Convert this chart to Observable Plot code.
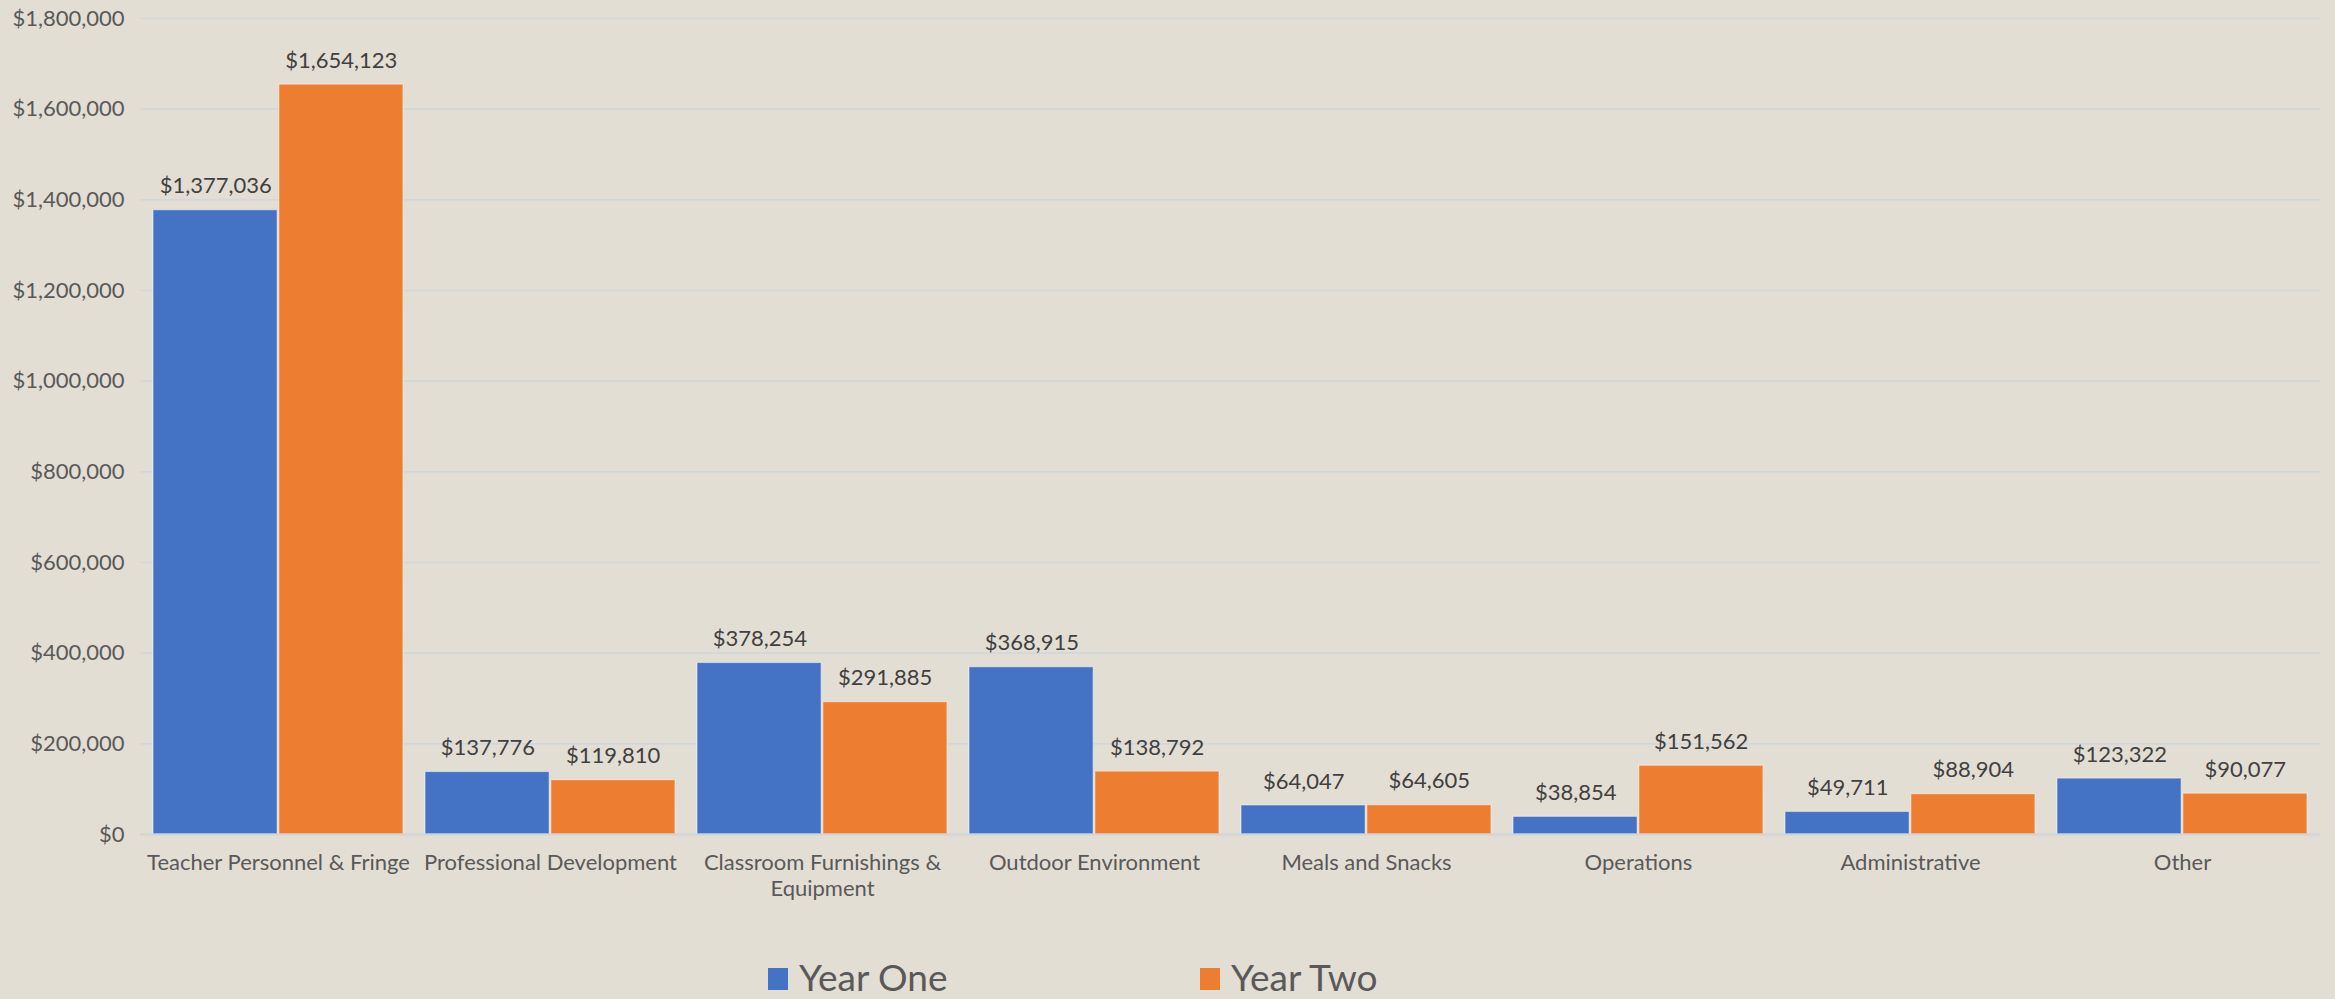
<!DOCTYPE html>
<html>
<head>
<meta charset="utf-8">
<script src="https://cdn.jsdelivr.net/npm/d3@7"></script>
<script src="https://cdn.jsdelivr.net/npm/@observablehq/plot@0.6"></script>
<style>
  html, body { margin: 0; padding: 0; background: #E3DED3; }
  body { width: 2335px; height: 999px; overflow: hidden; position: relative; font-family: Lato, "Open Sans", sans-serif; }
  #chart { position: absolute; left: 0; top: 0; }
  #legend { position: absolute; left: 0; top: 954px; width: 2335px; height: 45px; }
  .sw { position: absolute; top: 14px; width: 20px; height: 22px; }
  .lt { position: absolute; top: 0px; font-size: 37px; color: #595959; line-height: 45px; }
</style>
</head>
<body>
<div id="chart"></div>
<div id="legend"></div>
<script>
const categories = [
  "Teacher Personnel & Fringe",
  "Professional Development",
  "Classroom Furnishings & Equipment",
  "Outdoor Environment",
  "Meals and Snacks",
  "Operations",
  "Administrative",
  "Other"
];
const yearOne = [1377036, 137776, 378254, 368915, 64047, 38854, 49711, 123322];
const yearTwo = [1654123, 119810, 291885, 138792, 64605, 151562, 88904, 90077];
const seriesNames = ["Year One", "Year Two"];
const seriesColors = ["#4472C4", "#ED7D31"];
const yTicks = [0, 200000, 400000, 600000, 800000, 1000000, 1200000, 1400000, 1600000, 1800000];
const tickLabelBreaks = {"Classroom Furnishings & Equipment": "Classroom Furnishings &\nEquipment"};

const rowsOne = categories.map((c, i) => ({category: c, series: seriesNames[0], value: yearOne[i]}));
const rowsTwo = categories.map((c, i) => ({category: c, series: seriesNames[1], value: yearTwo[i]}));

const W = 2335, H = 940, mL = 140, mR = 15, mT = 18, mB = 106;
const pIn = 0.08, pOut = 0.04;
const step = (W - mL - mR) / (categories.length - pIn + 2 * pOut);
const bw = step * (1 - pIn);
const half = bw / 2;

const money = d => "$" + d3.format(",")(d);

const chart = Plot.plot({
  width: W, height: H,
  marginLeft: mL, marginRight: mR, marginTop: mT, marginBottom: mB,
  style: {background: "transparent", fontFamily: "Lato, 'Open Sans', sans-serif", fontSize: "22px", color: "#595959"},
  x: {domain: categories, paddingInner: pIn, paddingOuter: pOut, label: null},
  y: {domain: [0, 1800000], label: null},
  color: {domain: seriesNames, range: seriesColors},
  marks: [
    Plot.gridY(yTicks, {stroke: "#d3d6dd", strokeOpacity: 1, strokeWidth: 1.6}),
    Plot.barY(rowsOne, {x: "category", y: "value", fill: "series", insetRight: half + 0.5, stroke: "#ffffff", strokeOpacity: 0.45, strokeWidth: 1.2}),
    Plot.barY(rowsTwo, {x: "category", y: "value", fill: "series", insetLeft: half + 0.5, stroke: "#ffffff", strokeOpacity: 0.45, strokeWidth: 1.2}),
    Plot.ruleY([0], {stroke: "#d1d4da", strokeWidth: 2}),
    Plot.text(rowsOne, {x: "category", y: "value", text: d => money(d.value), dx: -half / 2, dy: -24, fill: "#404040", fontSize: 22}),
    Plot.text(rowsTwo, {x: "category", y: "value", text: d => money(d.value), dx: half / 2, dy: -24, fill: "#404040", fontSize: 22}),
    Plot.axisY(yTicks, {tickSize: 0, tickPadding: 16, tickFormat: money, fill: "#595959", fontSize: 22}),
    Plot.axisX({tickSize: 0, tickPadding: 18, tickFormat: d => tickLabelBreaks[d] || d, lineHeight: 1.15, fill: "#595959", fontSize: 22})
  ]
});
document.getElementById("chart").appendChild(chart);

const legend = document.getElementById("legend");
const legendX = [768, 1200];
seriesNames.forEach((name, i) => {
  const sw = document.createElement("div");
  sw.className = "sw";
  sw.style.left = legendX[i] + "px";
  sw.style.background = seriesColors[i];
  legend.appendChild(sw);
  const t = document.createElement("div");
  t.className = "lt";
  t.style.left = (legendX[i] + 31) + "px";
  t.textContent = name;
  legend.appendChild(t);
});
</script>
</body>
</html>
